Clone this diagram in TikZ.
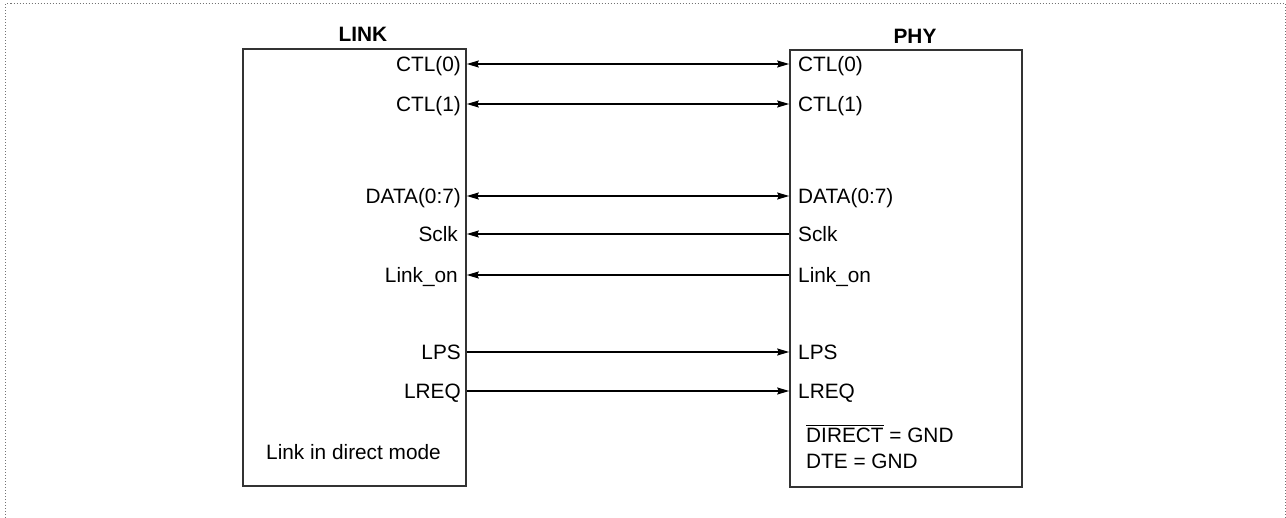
\documentclass[tikz,border=0pt]{standalone}
\usepackage{fontspec}
\setmainfont{Liberation Sans}
\usetikzlibrary{arrows.meta}
\newcommand\myovl[1]{\vbox{\hrule height 0.9pt\kern 3pt\hbox{#1}}}
\begin{document}
\begin{tikzpicture}[x=1pt,y=-1pt,
  box/.style={draw=black!80, line width=1.6pt, inner sep=0pt, minimum height=437pt},
  sig/.style={font=\fontsize{20.8}{24}\selectfont, inner sep=0pt, text height=14.9pt, text depth=0pt},
  note/.style={font=\fontsize{20.8}{24}\selectfont, inner sep=0pt},
  ttl/.style={font=\fontsize{20.8}{24}\selectfont\bfseries, inner sep=0pt},
  wire/.style={line width=1.3pt, draw=black},
  both/.style={wire, {Stealth[length=12pt,width=7pt,inset=1.5pt]}-{Stealth[length=12pt,width=7pt,inset=1.5pt]}},
  toright/.style={wire, -{Stealth[length=12pt,width=7pt,inset=1.5pt]}},
  toleft/.style={wire, {Stealth[length=12pt,width=7pt,inset=1.5pt]}-}]
\useasboundingbox (0,0) rectangle (1286,518);
\draw[black!55, dotted, line width=1pt] (5.5,518) -- (5.5,4) -- (1285,4) -- (1285,518);
% boxes
\node[box, minimum width=223pt] (link) at (354.5,267.5) {};
\node[box, minimum width=232pt] (phy) at (906,268.5) {};
\node[ttl, anchor=base] (linkttl) at (363,42) {LINK};
\node[ttl, anchor=base] (phyttl) at (915,44) {PHY};
% left labels
\node[sig, anchor=east] (l1) at (461,64) {CTL(0)};
\node[sig, anchor=east] (l2) at (461,104) {CTL(1)};
\node[sig, anchor=east] (l3) at (461,196) {DATA(0:7)};
\node[sig, anchor=east] (l4) at (458,234) {Sclk};
\node[sig, anchor=east] (l5) at (458,275) {Link\_on};
\node[sig, anchor=east] (l6) at (461,352) {LPS};
\node[sig, anchor=east] (l7) at (461,391) {LREQ};
% right labels
\node[sig, anchor=west] (r1) at (798,64) {CTL(0)};
\node[sig, anchor=west] (r2) at (798,104) {CTL(1)};
\node[sig, anchor=west] (r3) at (798,196) {DATA(0:7)};
\node[sig, anchor=west] (r4) at (798,234) {Sclk};
\node[sig, anchor=west] (r5) at (798,275) {Link\_on};
\node[sig, anchor=west] (r6) at (798,352) {LPS};
\node[sig, anchor=west] (r7) at (798,391) {LREQ};
% connectors
\draw[both] (l1.east -| link.east) -- (r1.west -| phy.west);
\draw[both] (l2.east -| link.east) -- (r2.west -| phy.west);
\draw[both] (l3.east -| link.east) -- (r3.west -| phy.west);
\draw[toleft] (l4.east -| link.east) -- (r4.west -| phy.west);
\draw[toleft] (l5.east -| link.east) -- (r5.west -| phy.west);
\draw[toright] (l6.east -| link.east) -- (r6.west -| phy.west);
\draw[toright] (l7.east -| link.east) -- (r7.west -| phy.west);
% notes
\node[note, anchor=base west] (mode) at (266,460) {Link in direct mode};
\node[note, anchor=base west] (direct) at (806,443) {\myovl{DIRECT} = GND};
\node[note, anchor=base west] (dte) at (806,469) {DTE = GND};
\end{tikzpicture}
\end{document}
